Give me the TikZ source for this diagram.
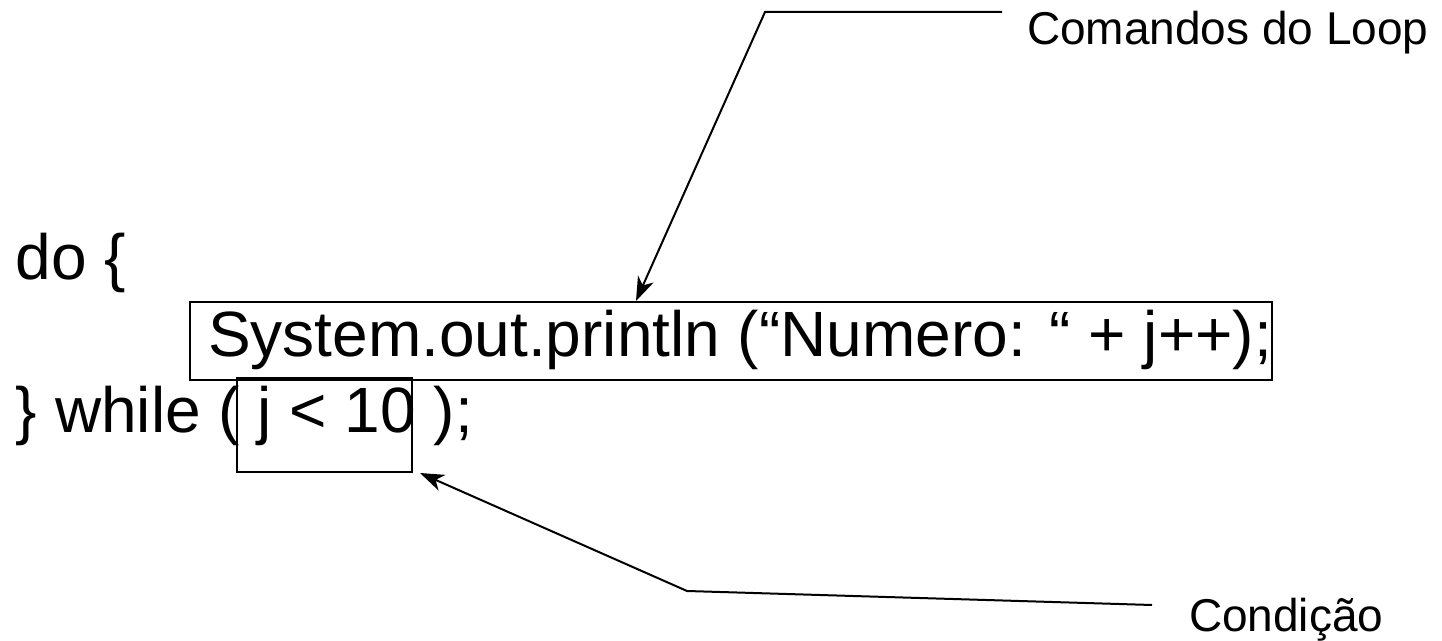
\documentclass[tikz,border=0pt]{standalone}
\usepackage{fontspec}
\setmainfont{Liberation Sans}
\usetikzlibrary{arrows.meta}

\begin{document}
\begin{tikzpicture}[
    x=0.5pt, y=-0.5pt,
    line width=1pt,
    code/.style={inner sep=0pt, anchor=base west, font=\fontsize{32}{38}\selectfont},
    note/.style={inner sep=0pt, anchor=base west, font=\fontsize{23}{28}\selectfont},
    hilite/.style={draw, inner sep=0pt},
    pointer/.style={-{Stealth[length=12pt, width=8.5pt, inset=3.5pt]}}
  ]
  \useasboundingbox (0,0) rectangle (1442,641);

  % Code lines
  \node[code] (dolinha) at (15,280) {do \{};
  \node[code] (corpo) at (207,357) {System.out.println (“Numero: “ + j++);};
  \node[code] (whilelinha) at (15,433) {\} while ( j < 10 );};

  % Highlight boxes
  \node[hilite, minimum width=541pt, minimum height=39pt] (corpobox) at (731,341) {};
  \node[hilite, minimum width=87.5pt, minimum height=47pt] (condbox) at (324.5,425) {};

  % Labels
  \node[note] (rotuloloop) at (1026,45) {Comandos do Loop};
  \node[note] (rotulocond) at (1188,632) {Condição};

  % Pointers
  \coordinate (inicioloop) at (1002,12);
  \coordinate (dobraloop) at (765,12);
  \coordinate (iniciocond) at (1152,605);
  \coordinate (dobracond) at (687,591);
  \draw[pointer] (inicioloop) -- (dobraloop) -- ([xshift=223.5pt]corpobox.north west);
  \draw[pointer] (iniciocond) -- (dobracond) -- ([xshift=3.5pt]condbox.south east);

\end{tikzpicture}
\end{document}
